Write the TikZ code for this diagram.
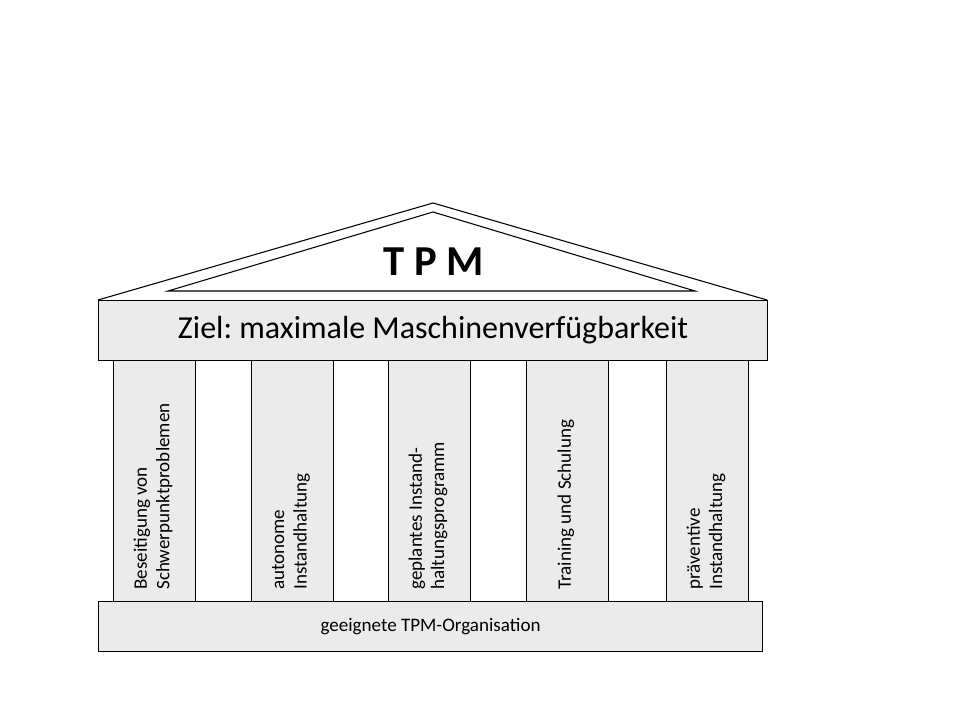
\documentclass[tikz,border=0pt]{standalone}
\usepackage{fontspec}
\setmainfont{Carlito}
\frenchspacing
\definecolor{pillargray}{HTML}{EBEBEB}
\begin{document}
\begin{tikzpicture}[x=0.75pt,y=-0.75pt,
  edge/.style={draw=black,line width=0.8pt},
  barbox/.style={edge,fill=pillargray,anchor=north west,inner sep=0pt},
  pillartext/.style={rotate=90,anchor=west,align=left,font=\fontsize{14.3}{16.8}\selectfont,inner sep=0pt}]
\useasboundingbox[fill=white] (0,0) rectangle (960,720);
% roof
\coordinate (apex) at (433,203);
\coordinate (rl) at (98,300);
\coordinate (rr) at (767,300);
\coordinate (iapex) at (433,212);
\coordinate (il) at (168,291);
\coordinate (ir) at (695,291);
\draw[edge,line join=miter] (rl) -- (apex) -- (rr);
\draw[edge] (il) -- (iapex) -- (ir) -- cycle;
\node[font=\fontsize{32}{35}\bfseries] (tpm) at (434,262) {T P M};
% architrave
\node[barbox,minimum width=501.75pt,minimum height=45pt,font=\fontsize{24}{27}\selectfont] (bar) at (98,300) {Ziel: maximale Maschinenverfügbarkeit};
% pillars
\node[barbox,minimum width=61.5pt,minimum height=180.75pt] (p1) at (113,360) {};
\node[barbox,minimum width=61.5pt,minimum height=180.75pt] (p2) at (251,360) {};
\node[barbox,minimum width=61.5pt,minimum height=180.75pt] (p3) at (388,360) {};
\node[barbox,minimum width=61.5pt,minimum height=180.75pt] (p4) at (526,360) {};
\node[barbox,minimum width=61.5pt,minimum height=180.75pt] (p5) at (666,360) {};
\node[pillartext] (t1) at (153,590) {Beseitigung von\\Schwerpunktproblemen};
\node[pillartext] (t2) at (291,590) {autonome\\Instandhaltung};
\node[pillartext] (t3) at (428,590) {geplantes Instand-\\haltungsprogramm};
\node[pillartext] (t4) at (566,590) {Training und Schulung};
\node[pillartext] (t5) at (706,590) {präventive\\Instandhaltung};
% base
\node[barbox,minimum width=498pt,minimum height=37.5pt,font=\fontsize{14.3}{17}\selectfont] (base) at (98,601) {geeignete TPM-Organisation};
\end{tikzpicture}
\end{document}
